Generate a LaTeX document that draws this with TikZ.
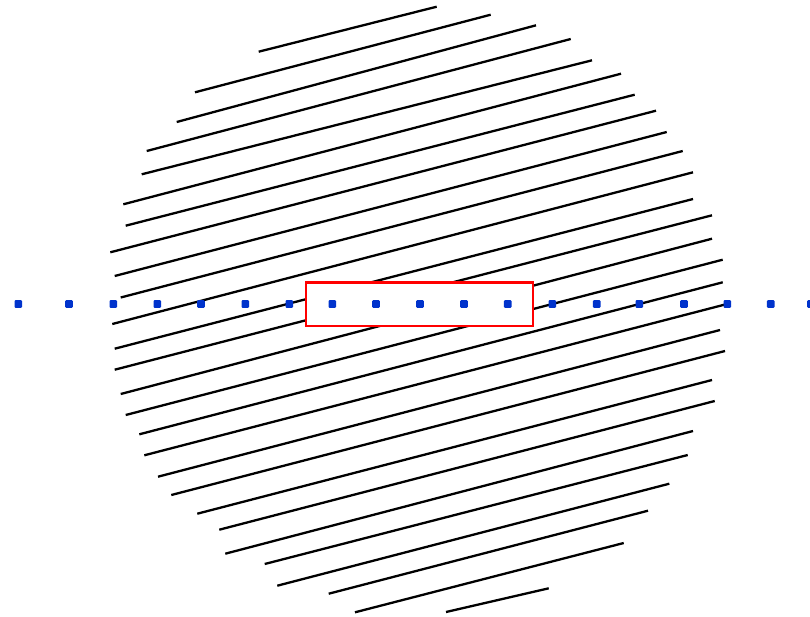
\documentclass[tikz,border=0pt]{standalone}
\begin{document}
\begin{tikzpicture}[x=1pt,y=-1pt,
  hatch/.style={line width=2.3pt,black},
  bluedot/.style={fill=dotblue,draw=none,rounded corners=1pt},
  redbox/.style={draw=red,fill=white,line width=2.4pt}]
\definecolor{dotblue}{RGB}{0,51,204}
\useasboundingbox (0,0) rectangle (810,616);
\clip (0,0) rectangle (810,616);
\foreach \xa/\ya/\xb/\yb in {
258.7/51.7/436.7/6.7,
195/92.3/490.7/14.7,
176.7/122/536/25.3,
146.7/151/570.7/39,
141.7/174.3/592/60.3,
123.3/204.3/621/73.7,
125.7/225.7/634.7/94.7,
110.3/252.3/656/110.7,
114.7/276/666.7/132,
120.7/297.5/682.7/151,
112.3/324/693/172.3,
114.7/348.7/693/199,
114.7/369.7/712/215.3,
120.7/394/712/238.7,
125.7/415/722.7/259.7,
139.3/434.3/722.7/282.3,
144.3/455.3/727/304,
158/476.7/720/330,
171.3/495/725/351,
197.3/513.7/712/380,
219.3/529.7/714.7/401,
225.3/553.7/693/431,
264.7/564/687.7/455,
277.3/585.7/669.3/483.7,
328.7/593.7/648/510.7,
355/612.3/623.7/543,
446/612/548.7/588.3}
  \draw[hatch] (\xa,\ya) -- (\xb,\yb);
\node[redbox,minimum width=227pt,minimum height=43.4pt,inner sep=0pt] (box) at (419.7,304) {};
\foreach \x in {18.3,69,113.3,157.3,201,245.3,289.3,332.3,376,420,464,507.7,552.3,596.7,639.3,684,727.3,770.7,811}
  \fill[bluedot] (\x-3.8,304-3.8) rectangle (\x+3.8,304+3.8);
\end{tikzpicture}
\end{document}
